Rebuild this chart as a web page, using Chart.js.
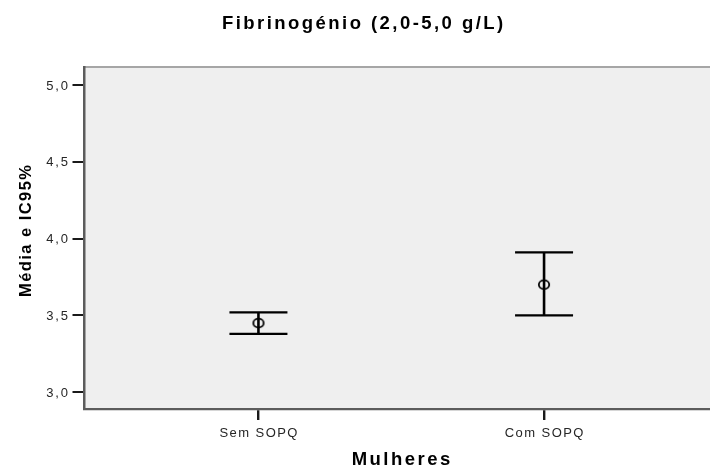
<!DOCTYPE html>
<html>
<head>
<meta charset="utf-8">
<script src="https://cdn.jsdelivr.net/npm/chart.js@4"></script>
<style>
  html, body { margin: 0; padding: 0; background: #fff; }
  #wrap { width: 710px; height: 466px; }
</style>
</head>
<body>
<div id="wrap"><canvas id="c" width="710" height="466"></canvas></div>
<script>
// Fibrinogen: mean and 95% confidence interval per group
const categories = ['Sem SOPQ', 'Com SOPQ'];
const means = [3.45, 3.70];
const ciLower = [3.38, 3.50];
const ciUpper = [3.52, 3.91];
const yTicks = [3.0, 3.5, 4.0, 4.5, 5.0];

const chartTitle = 'Fibrinogénio (2,0-5,0 g/L)';
const xTitle = 'Mulheres';
const yTitle = 'Média e IC95%';

const FONT = '"Liberation Sans", Arial, sans-serif';

// text drawn glyph by glyph with extra tracking
function textWidth(ctx, str, sp) {
  let w = 0;
  for (const ch of str) w += ctx.measureText(ch).width;
  return w + sp * (str.length - 1);
}
function spacedText(ctx, str, x, y, sp, align) {
  const w = textWidth(ctx, str, sp);
  let cx = align === 'center' ? x - w / 2 : align === 'right' ? x - w : x;
  ctx.textAlign = 'left';
  for (const ch of str) {
    ctx.fillText(ch, cx, y);
    cx += ctx.measureText(ch).width + sp;
  }
}

// open circle marker for the means
const meanMarker = (() => {
  const cv = document.createElement('canvas');
  cv.width = 16; cv.height = 14;
  const g = cv.getContext('2d');
  g.strokeStyle = '#000';
  g.lineWidth = 1.8;
  g.beginPath();
  g.ellipse(8, 7, 5.2, 4.3, 0, 0, Math.PI * 2);
  g.stroke();
  return cv;
})();

// plot background and top frame line
const framePlugin = {
  id: 'frame',
  beforeDraw(chart) {
    const { ctx, chartArea: a } = chart;
    ctx.save();
    ctx.fillStyle = '#efefef';
    ctx.fillRect(a.left, a.top, a.right - a.left, a.bottom - a.top);
    ctx.strokeStyle = '#a6a6a6';
    ctx.lineWidth = 2;
    ctx.beginPath();
    ctx.moveTo(a.left, a.top);
    ctx.lineTo(a.right, a.top);
    ctx.stroke();
    ctx.restore();
  }
};

// chart title, axis titles and tick labels
const labelPlugin = {
  id: 'labels',
  afterDraw(chart) {
    const { ctx, scales: { x, y } } = chart;
    ctx.save();
    ctx.textBaseline = 'alphabetic';

    ctx.fillStyle = '#000';
    ctx.font = 'bold 18.5px ' + FONT;
    spacedText(ctx, chartTitle, 222, 29, 2.45, 'left');
    spacedText(ctx, xTitle, 401, 465, 2.5, 'center');

    ctx.save();
    ctx.font = 'bold 16.5px ' + FONT;
    ctx.translate(30.5, 231);
    ctx.rotate(-Math.PI / 2);
    spacedText(ctx, yTitle, 0, 0, 1.45, 'center');
    ctx.restore();

    ctx.fillStyle = '#262626';
    ctx.font = '13px ' + FONT;
    yTicks.forEach(v => {
      const py = y.getPixelForValue(v);
      spacedText(ctx, v.toFixed(1).replace('.', ','), 68, py + 4.7, 1.9, 'right');
    });
    categories.forEach((c, i) => {
      spacedText(ctx, c, x.getPixelForValue(i + 1), 436.5, 1.45, 'center');
    });
    ctx.restore();
  }
};

// whiskers with caps for each confidence interval
const errorBarPlugin = {
  id: 'errorBars',
  afterDatasetsDraw(chart) {
    const { ctx, scales: { x, y } } = chart;
    const capHalf = 29;
    ctx.save();
    ctx.strokeStyle = '#000';
    categories.forEach((_, i) => {
      const px = x.getPixelForValue(i + 1);
      const yl = y.getPixelForValue(ciLower[i]);
      const yu = y.getPixelForValue(ciUpper[i]);
      ctx.lineWidth = 2.6;
      ctx.beginPath();
      ctx.moveTo(px, yl); ctx.lineTo(px, yu);
      ctx.stroke();
      ctx.lineWidth = 2.2;
      ctx.beginPath();
      ctx.moveTo(px - capHalf, yl); ctx.lineTo(px + capHalf, yl);
      ctx.moveTo(px - capHalf, yu); ctx.lineTo(px + capHalf, yu);
      ctx.stroke();
    });
    ctx.restore();
  }
};

new Chart(document.getElementById('c'), {
  type: 'scatter',
  data: {
    datasets: [{
      data: categories.map((c, i) => ({ x: i + 1, y: means[i] })),
      pointStyle: meanMarker,
      pointRadius: 6,
      pointHoverRadius: 6
    }]
  },
  options: {
    responsive: false,
    animation: false,
    devicePixelRatio: 1,
    layout: { autoPadding: false, padding: { top: 67, right: 0, bottom: 0, left: 0 } },
    plugins: { legend: { display: false }, tooltip: { enabled: false }, title: { display: false } },
    scales: {
      x: {
        type: 'linear',
        min: 0.391,
        max: 2.581,
        afterFit(s) { s.height = 57; s.paddingLeft = 0; s.paddingRight = 0; },
        afterBuildTicks(s) { s.ticks = categories.map((c, i) => ({ value: i + 1 })); },
        grid: { drawOnChartArea: false, drawTicks: true, tickLength: 11, color: '#1a1a1a', lineWidth: 2.4 },
        border: { display: true, color: '#5c5c5c', width: 2.2 },
        ticks: { display: false }
      },
      y: {
        min: 2.891,
        max: 5.116,
        afterFit(s) { s.width = 84.5; s.paddingTop = 0; s.paddingBottom = 0; },
        afterBuildTicks(s) { s.ticks = yTicks.map(v => ({ value: v })); },
        grid: { drawOnChartArea: false, drawTicks: true, tickLength: 12, color: '#1a1a1a', lineWidth: 2 },
        border: { display: true, color: '#5c5c5c', width: 2.5 },
        ticks: { display: false }
      }
    }
  },
  plugins: [framePlugin, errorBarPlugin, labelPlugin]
});
</script>
</body>
</html>
